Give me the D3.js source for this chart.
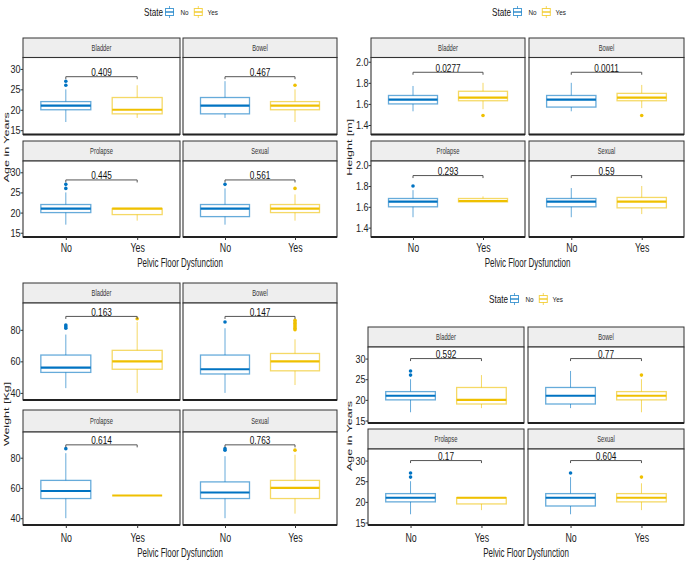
<!DOCTYPE html>
<html><head><meta charset="utf-8">
<script src="https://cdn.jsdelivr.net/npm/d3@7"></script>
<style>body{margin:0;background:#fff}svg{display:block}text{font-family:"Liberation Sans",Arial,sans-serif}</style>
</head><body><svg id="c" width="685" height="561"></svg>
<script>
const facets = ["Bladder","Bowel","Prolapse","Sexual"];
const groups = ["No","Yes"];
// each box: [lower whisker, q1, median, q3, upper whisker]
const ageNo  = [[17,20,21,22,25],[18,19,21,23,27],[17,20,21,22,25],[17,19,21,22,26]];
const ageYes = [[18,19,20,23,26],[17,20,21,22,25],[18,19.5,21,21,21],[18,20,21,22,24.5]];
const ageNoOut  = [[26,27],[],[26,27],[27]];
const ageYesOut = [[],[26],[],[26]];
const agePvals = ["0.409","0.467","0.445","0.561"];
const ageTicks = [15,20,25,30];

const heightNo  = [[1.53,1.60,1.64,1.68,1.77],[1.53,1.57,1.64,1.68,1.80],[1.50,1.60,1.65,1.68,1.76],[1.50,1.60,1.65,1.68,1.78]];
const heightYes = [[1.55,1.63,1.66,1.72,1.80],[1.56,1.63,1.66,1.70,1.78],[1.647,1.647,1.656,1.68,1.70],[1.53,1.59,1.65,1.69,1.80]];
const heightNoOut  = [[],[],[1.80],[]];
const heightYesOut = [[1.49],[1.49],[],[]];
const heightPvals = ["0.0277","0.0011","0.293","0.59"];
const heightTicks = [1.4,1.6,1.8,2.0];

const weightNo  = [[43,53,56,64,77],[40,52,55,64,81],[40,53,58,65,83],[40,53,57,64,81]];
const weightYes = [[40,55,60,67,85],[45,54,60,65,74],[55,55,55,55,55],[43,53,60,65,82]];
const weightNoOut  = [[81,82,83],[85],[86],[85,86]];
const weightYesOut = [[87],[80,81,82,83,84,85,86],[],[85]];
const weightPvals = ["0.163","0.147","0.614","0.763"];
const weightTicks = [40,60,80];

const age2Pvals = ["0.592","0.77","0.17","0.604"];

const colors = ["#0073C2","#EFC000"];
const svg = d3.select("#c");

function label(g, x, y, s, size, sx, anchor, rot, fill){
  g.append("text")
   .attr("transform", `translate(${x},${y}) scale(${sx},1)` + (rot ? ` rotate(${rot})` : ""))
   .attr("text-anchor", anchor || "middle")
   .attr("font-size", size)
   .attr("fill", fill || "#222")
   .text(s);
}

function legend(x, y){
  const g = svg.append("g");
  label(g, x, y+4, "State", 11, 0.74, "start", 0, "#111");
  const keys = [[x+25.5, x+36.5],[x+54.3, x+63.5]];
  groups.forEach((grp,i)=>{
    const kx = keys[i][0];
    const c = colors[i];
    g.append("line").attr("x1",kx).attr("x2",kx).attr("y1",y-6).attr("y2",y+6)
      .attr("stroke",c).attr("stroke-opacity",0.6);
    g.append("rect").attr("x",kx-4).attr("y",y-3.5).attr("width",8).attr("height",7)
      .attr("fill","#fff").attr("stroke",c).attr("stroke-opacity",0.7);
    g.append("line").attr("x1",kx-4).attr("x2",kx+4).attr("y1",y).attr("y2",y)
      .attr("stroke",c).attr("stroke-width",1.2);
    label(g, keys[i][1], y+2.5, grp, 7.5, 0.85, "start", 0, "#222");
  });
}

function quadrant(cfg){
  const g = svg.append("g");
  facets.forEach((f,i)=>{
    const col = i%2, row = Math.floor(i/2);
    const [x0,x1] = cfg.cols[col];
    const r = cfg.rows[row];
    g.append("rect").attr("x",x0).attr("y",r.st).attr("width",x1-x0).attr("height",r.pt-r.st)
      .attr("fill","#EEEEEE").attr("stroke","#333").attr("stroke-width",1);
    label(g, (x0+x1)/2, (r.st+r.pt)/2+3, f, 8.5, 0.68, "middle", 0, "#333");
    g.append("rect").attr("x",x0).attr("y",r.pt).attr("width",x1-x0).attr("height",r.pb-r.pt)
      .attr("fill","#fff").attr("stroke","#333").attr("stroke-width",1.1);
    const y = d3.scaleLinear().domain(cfg.yDomain).range([r.pb, r.pt]);
    const x = d3.scalePoint().domain(groups).range([x0,x1]).padding(0.6);
    const bw = x.step()*0.7;
    groups.forEach((grp,k)=>{
      const s = cfg.stats[k][i], outs = cfg.outs[k][i], c = colors[k], cx = x(grp);
      const pg = g.append("g");
      pg.append("line").attr("x1",cx).attr("x2",cx).attr("y1",y(s[0])).attr("y2",y(s[1]))
        .attr("stroke",c).attr("stroke-opacity",0.6);
      pg.append("line").attr("x1",cx).attr("x2",cx).attr("y1",y(s[3])).attr("y2",y(s[4]))
        .attr("stroke",c).attr("stroke-opacity",0.6);
      pg.append("rect").attr("x",cx-bw/2).attr("y",y(s[3])).attr("width",bw)
        .attr("height",Math.max(0,y(s[1])-y(s[3])))
        .attr("fill","none").attr("stroke",c).attr("stroke-opacity",0.6).attr("stroke-width",1.3);
      pg.append("line").attr("x1",cx-bw/2).attr("x2",cx+bw/2).attr("y1",y(s[2])).attr("y2",y(s[2]))
        .attr("stroke",c).attr("stroke-width",2.2);
      pg.selectAll("circle").data(outs).join("circle")
        .attr("cx",cx).attr("cy",d=>y(d)).attr("r",1.8).attr("fill",c);
    });
    const yb = y(cfg.bracket), xa = x("No"), xbb = x("Yes");
    g.append("path").attr("d",`M${xa},${yb+2.5}V${yb}H${xbb}V${yb+2.5}`)
      .attr("fill","none").attr("stroke","#555").attr("stroke-width",1);
    label(g, (xa+xbb)/2, yb-0.5, cfg.pvals[i], 11, 0.75, "middle", 0, "#111");
    g.append("line").attr("x1",x0).attr("x2",x1).attr("y1",r.pb).attr("y2",r.pb)
      .attr("stroke","#222").attr("stroke-width",1.8);
    if(col===0){
      const ax = g.append("g").attr("transform",`translate(${x0},0)`)
        .call(d3.axisLeft(y).tickValues(cfg.ticks).tickSize(2.5).tickPadding(0.5).tickFormat(cfg.fmt));
      ax.select(".domain").remove();
      ax.selectAll("line").attr("stroke","#333");
      ax.selectAll("text").attr("font-size",11).attr("fill","#222")
        .attr("font-family","Liberation Sans, Arial, sans-serif")
        .attr("transform","scale(0.82,1)");
    }
    if(row===1){
      const ax = g.append("g").attr("transform",`translate(0,${r.pb})`)
        .call(d3.axisBottom(x).tickSize(3).tickPadding(cfg.xPad));
      ax.select(".domain").remove();
      ax.selectAll("line").attr("stroke","#333");
      ax.selectAll("text").attr("font-size",13).attr("fill","#222")
        .attr("font-family","Liberation Sans, Arial, sans-serif")
        .attr("transform","scale(0.68,1)");
    }
  });
  const xc = (cfg.cols[0][0]+cfg.cols[1][1])/2;
  label(g, xc, cfg.xTitleY, "Pelvic Floor Dysfunction", 12.5, 0.64, "middle", 0, "#222");
  const yc = (cfg.rows[0].pt + cfg.rows[1].pb)/2;
  label(g, cfg.yTitleX, yc, cfg.yTitle, 12.5, 0.62, "middle", -90, "#222");
  if(cfg.legend) legend(cfg.legend[0], cfg.legend[1]);
}

quadrant({
  cols:[[23,180],[183,337]],
  rows:[{st:38,pt:57.5,pb:134.5},{st:141,pt:161,pb:237}],
  yDomain:[13.94,32.8], ticks:ageTicks, fmt:d3.format("d"),
  stats:[ageNo,ageYes], outs:[ageNoOut,ageYesOut], pvals:agePvals, bracket:28.1,
  xPad:3, xTitleY:267, yTitle:"Age in Years", yTitleX:9, legend:[144,12]
});
quadrant({
  cols:[[371,525],[529,684]],
  rows:[{st:38,pt:57.5,pb:134.5},{st:141,pt:161,pb:237}],
  yDomain:[1.31,2.04], ticks:heightTicks, fmt:d3.format(".1f"),
  stats:[heightNo,heightYes], outs:[heightNoOut,heightYesOut], pvals:heightPvals, bracket:1.90,
  xPad:3, xTitleY:267, yTitle:"Height [m]", yTitleX:352, legend:[492,12]
});
quadrant({
  cols:[[23,180],[183,337]],
  rows:[{st:283,pt:303,pb:400},{st:410,pt:432,pb:525}],
  yDomain:[35.5,97], ticks:weightTicks, fmt:d3.format("d"),
  stats:[weightNo,weightYes], outs:[weightNoOut,weightYesOut], pvals:weightPvals, bracket:88.5,
  xPad:5, xTitleY:557, yTitle:"Weight [Kg]", yTitleX:9, legend:null
});
quadrant({
  cols:[[368,524],[528,684]],
  rows:[{st:327,pt:347,pb:423},{st:429,pt:449,pb:525}],
  yDomain:[14.4,32.8], ticks:ageTicks, fmt:d3.format("d"),
  stats:[ageNo,ageYes], outs:[ageNoOut,ageYesOut], pvals:age2Pvals, bracket:30,
  xPad:5, xTitleY:557, yTitle:"Age in Years", yTitleX:352, legend:[489,299]
});
</script></body></html>
